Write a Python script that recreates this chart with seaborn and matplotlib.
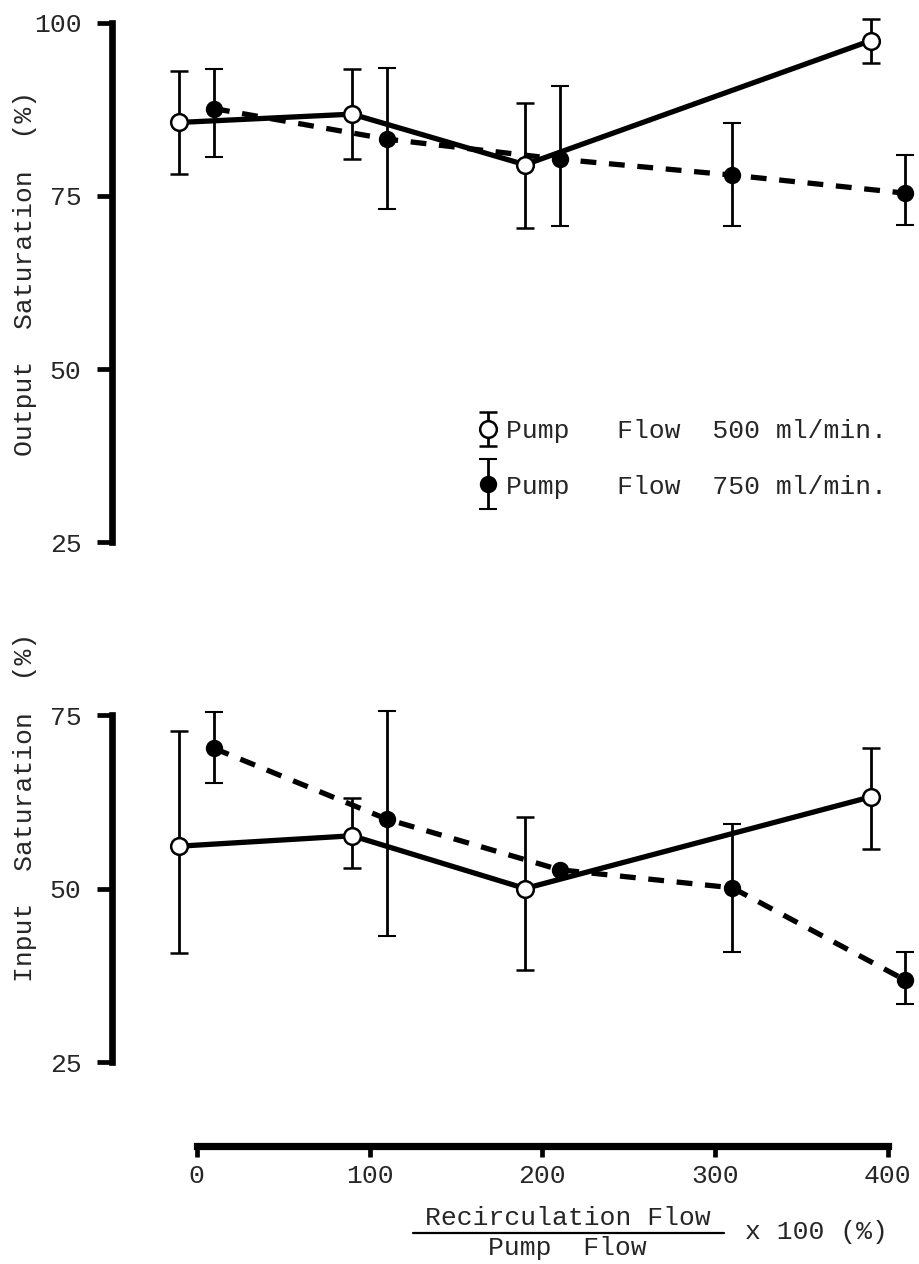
import numpy as np
import pandas as pd
import matplotlib
matplotlib.use("Agg")
import matplotlib.pyplot as plt
from matplotlib.lines import Line2D
from matplotlib.legend_handler import HandlerErrorbar
import seaborn as sns

# ---------------- data ----------------
x_500 = [-10, 90, 190, 390]
x_750 = [10, 110, 210, 310, 410]

out_500 = [85.6, 86.8, 79.5, 97.4]
out_500_hi = [93.0, 93.3, 88.4, 100.5]
out_500_lo = [78.2, 80.3, 70.3, 94.2]

out_750 = [87.6, 83.2, 80.3, 78.0, 75.4]
out_750_hi = [93.3, 93.4, 90.9, 85.5, 80.9]
out_750_lo = [80.6, 73.1, 70.6, 70.7, 70.8]

in_500 = [56.1, 57.6, 50.0, 63.2]
in_500_hi = [72.7, 63.1, 60.3, 70.3]
in_500_lo = [40.7, 52.9, 38.3, 55.7]

in_750 = [70.2, 60.0, 52.7, 50.1, 36.8]
in_750_hi = [75.4, 75.6, np.nan, 59.3, 40.9]
in_750_lo = [65.2, 43.2, np.nan, 40.8, 33.3]

x_ticks = [0, 100, 200, 300, 400]
top_yticks = [25, 50, 75, 100]
bot_yticks = [25, 50, 75]

label_500 = "Pump   Flow  500 ml/min."
label_750 = "Pump   Flow  750 ml/min."

# ---------------- style ----------------
sns.set_theme(style="white")
plt.rcParams["font.family"] = ["Liberation Mono", "DejaVu Sans Mono"]
FS = 19

W, H = 919, 1264
fig = plt.figure(figsize=(W / 100, H / 100), dpi=100)

def fx(px):
    return px / W

def fy(py):
    return 1 - py / H

left_px, right_px = 112, 919
ax_top = fig.add_axes([fx(left_px), fy(563.2), (right_px - left_px) / W, (563.2 - 8.8) / H])
ax_bot = fig.add_axes([fx(left_px), fy(1146), (right_px - left_px) / W, (1146 - 694.2) / H])

xmin = (left_px - 196.7) / 1.728
xmax = (right_px - 196.7) / 1.728


def draw_panel(ax, y5, lo5, hi5, y7, lo7, hi7):
    y5 = np.array(y5); lo5 = np.array(lo5); hi5 = np.array(hi5)
    y7 = np.array(y7); lo7 = np.array(lo7); hi7 = np.array(hi7)
    sns.lineplot(x=x_500, y=y5, ax=ax, color="black", lw=3.8,
                 linestyle="-", zorder=2, solid_capstyle="round")
    sns.lineplot(x=x_750, y=y7, ax=ax, color="black", lw=3.8,
                 linestyle=(0, (3.0, 2.4)), zorder=2)
    e5 = ax.errorbar(x_500, y5, yerr=[y5 - lo5, hi5 - y5], fmt="o", ms=12,
                     mfc="white", mec="black", mew=1.8, ecolor="black",
                     elinewidth=2.0, capsize=6.5, capthick=2.4, zorder=3,
                     label=label_500)
    e7 = ax.errorbar(x_750, y7, yerr=[y7 - lo7, hi7 - y7], fmt="o", ms=11,
                     mfc="black", mec="black", mew=1.5, ecolor="black",
                     elinewidth=2.0, capsize=6.5, capthick=2.4, zorder=3,
                     label=label_750)
    for s in ["top", "right"]:
        ax.spines[s].set_visible(False)
    ax.spines["left"].set_linewidth(4.8)
    ax.spines["left"].set_color("black")
    ax.tick_params(axis="y", direction="out", left=True, length=11, width=3.4,
                   pad=11, labelsize=FS, color="black")
    ax.set_xlim(xmin, xmax)
    ax.set_facecolor("white")
    return e5, e7


e5, e7 = draw_panel(ax_top, out_500, out_500_lo, out_500_hi,
                    out_750, out_750_lo, out_750_hi)
draw_panel(ax_bot, in_500, in_500_lo, in_500_hi, in_750, in_750_lo, in_750_hi)

# top panel axes
ax_top.set_ylim(22, 102)
ax_top.spines["left"].set_bounds(25, 100)
ax_top.set_yticks(top_yticks)
ax_top.spines["bottom"].set_visible(False)
ax_top.tick_params(axis="x", bottom=False, labelbottom=False)
ax_top.set_xlabel("")
ax_top.set_ylabel("Output  Saturation  (%)", fontsize=FS)
ax_top.yaxis.label.set(rotation_mode="default", va="center", ha="center")
ax_top.yaxis.set_label_coords((25 - left_px) / (right_px - left_px),
                              (563.2 - 273) / (563.2 - 8.8))

# bottom panel axes
ax_bot.set_ylim(75 - (1146 - 715) / 6.94, 78)
ax_bot.spines["left"].set_bounds(25, 75)
ax_bot.set_yticks(bot_yticks)
ax_bot.spines["bottom"].set_bounds(0, 400)
ax_bot.spines["bottom"].set_linewidth(5.2)
ax_bot.spines["bottom"].set_color("black")
ax_bot.set_xticks(x_ticks)
ax_bot.tick_params(axis="x", direction="out", bottom=True, length=8, width=3.4,
                   pad=5, labelsize=FS, color="black")
ax_bot.set_xlabel("")
ax_bot.set_ylabel("Input  Saturation  (%)", fontsize=FS)
ax_bot.yaxis.label.set(rotation_mode="default", va="center", ha="center")
ax_bot.yaxis.set_label_coords((25 - left_px) / (right_px - left_px),
                              (1146 - 807) / (1146 - 694.2))

# legend in top panel
ax_top.legend(handles=[e5, e7], labels=[label_500, label_750],
              handler_map={e5: HandlerErrorbar(xerr_size=0.35, yerr_size=0.65),
                           e7: HandlerErrorbar(xerr_size=0.35, yerr_size=0.95)},
              loc="upper left", bbox_to_anchor=(fx(477), fy(419)),
              bbox_transform=fig.transFigure, frameon=False, fontsize=FS,
              handlelength=0.8, handletextpad=0.3, labelspacing=1.2,
              borderpad=0, borderaxespad=0)

# x-axis label as a fraction
fig.text(fx(567.5), fy(1218), "Recirculation Flow", ha="center", va="center",
         fontsize=FS)
fig.add_artist(Line2D([fx(413), fx(724)], [fy(1233), fy(1233)],
                      transform=fig.transFigure, color="black", lw=1.6))
fig.text(fx(567.5), fy(1248), "Pump  Flow", ha="center", va="center",
         fontsize=FS)
fig.text(fx(816), fy(1232), "x 100 (%)", ha="center", va="center",
         fontsize=FS)

fig.savefig("out.png", dpi=100, facecolor="white")
